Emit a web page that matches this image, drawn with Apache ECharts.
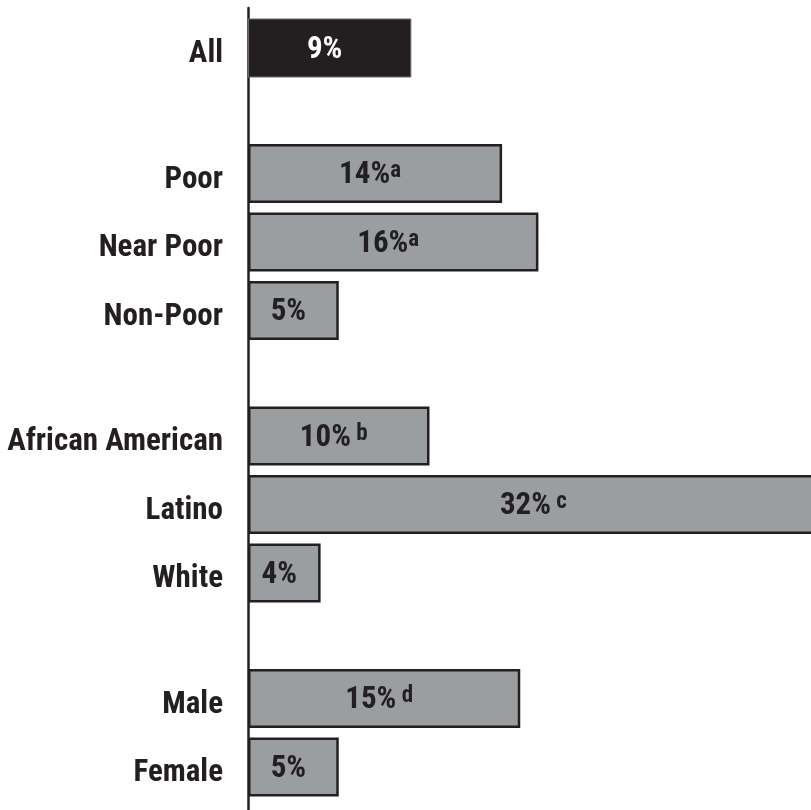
<!DOCTYPE html>
<html><head><meta charset="utf-8">
<script src="https://cdn.jsdelivr.net/npm/echarts@6/dist/echarts.min.js"></script>
<style>html,body{margin:0;padding:0;background:#fff}#c{width:811px;height:810px}</style>
</head><body><div id="c"></div>
<script>
// ---- data ----
const categories = ['All', 'Poor', 'Near Poor', 'Non-Poor', 'African American', 'Latino', 'White', 'Male', 'Female'];
const values = [9, 14, 16, 5, 10, 32, 4, 15, 5];
const superscripts = ['', 'a', 'a', '', ' b', ' c', '', ' d', ''];
const groupSizes = [1, 3, 3, 2];

// ---- layout / style ----
const FONT = "'Liberation Sans Narrow', 'Arial Narrow', 'Roboto Condensed', Roboto, sans-serif";
const INK = '#231f20';
const BAR_GREY = '#9b9ea1';
const LEFT = 248;
const XMAX = 35;
const PX_PER_UNIT = 18.15;
const SLOT = 68.5;
const FIRST_TOP = 13.75;
const GROUP_GAP = 57;

const grids = [], xAxes = [], yAxes = [], series = [];
let startIdx = 0, gridTop = FIRST_TOP;
groupSizes.forEach((n, gi) => {
  const s0 = startIdx;
  const cats = categories.slice(s0, s0 + n);
  const vals = values.slice(s0, s0 + n);
  const sups = superscripts.slice(s0, s0 + n);
  grids.push({ left: LEFT, top: gridTop, width: XMAX * PX_PER_UNIT, height: n * SLOT,
               containLabel: false, outerBoundsMode: 'none' });
  xAxes.push({ type: 'value', gridIndex: gi, min: 0, max: XMAX, show: false });
  yAxes.push({
    type: 'category', gridIndex: gi, data: cats, inverse: true,
    axisLine: { show: false }, axisTick: { show: false }, splitLine: { show: false },
    axisLabel: {
      margin: 25, fontSize: 31, fontWeight: 'bold', fontFamily: FONT, color: INK,
      verticalAlign: 'top', lineHeight: 13
    }
  });
  series.push({
    type: 'bar', xAxisIndex: gi, yAxisIndex: gi, barWidth: 59, clip: false,
    silent: true, animation: false,
    itemStyle: { color: BAR_GREY, borderColor: INK, borderWidth: 2.5 },
    label: {
      show: true, position: 'inside', offset: [-5, 2], color: INK,
      fontFamily: FONT, fontWeight: 'bold',
      formatter: (p) => '{v|' + p.value + '%}' + (sups[p.dataIndex] ? '{s|' + sups[p.dataIndex] + '}' : ''),
      rich: {
        v: { fontSize: 31, fontWeight: 'bold', fontFamily: FONT, lineHeight: 31 },
        s: { fontSize: 23, fontWeight: 'bold', fontFamily: FONT, verticalAlign: 'top', lineHeight: 12 }
      }
    },
    data: vals.map((v, i) => (s0 + i === 0)
      ? { value: v, itemStyle: { color: INK, borderColor: '#6d6b6b', borderWidth: 1 }, label: { color: '#ffffff' } }
      : v)
  });
  startIdx += n;
  gridTop += n * SLOT + GROUP_GAP;
});

// axis line spanning the full height
const ai = groupSizes.length;
grids.push({ left: LEFT, top: 8, width: 10, height: 810, containLabel: false, outerBoundsMode: 'none' });
xAxes.push({ type: 'value', gridIndex: ai, min: 0, max: 1, show: false });
yAxes.push({
  type: 'value', gridIndex: ai, min: 0, max: 1, position: 'left',
  axisLine: { show: true, onZero: false, lineStyle: { color: INK, width: 2.5 } },
  axisTick: { show: false }, axisLabel: { show: false }, splitLine: { show: false }
});

const chart = echarts.init(document.getElementById('c'), null, { renderer: 'canvas' });
chart.setOption({ animation: false, grid: grids, xAxis: xAxes, yAxis: yAxes, series: series });
</script>
</body></html>
